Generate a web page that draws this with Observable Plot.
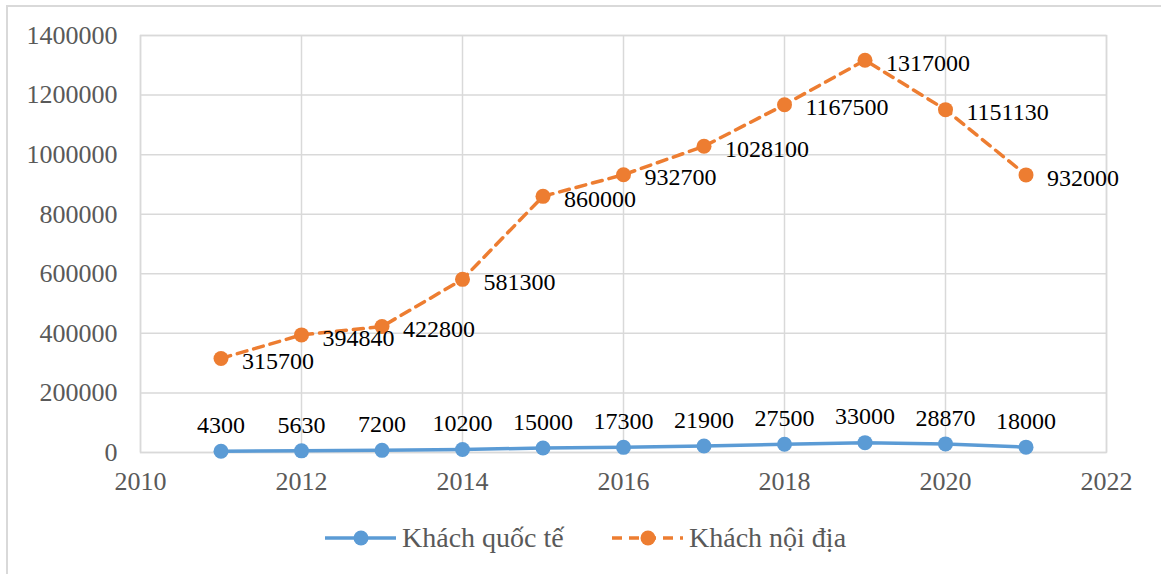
<!DOCTYPE html>
<html><head><meta charset="utf-8">
<script src="https://cdn.jsdelivr.net/npm/d3@7"></script>
<script src="https://cdn.jsdelivr.net/npm/@observablehq/plot@0.6"></script>
<style>
body{margin:0;background:#fff;}
#wrap{position:relative;width:1161px;height:574px;overflow:hidden;}
#border{position:absolute;left:6px;top:5px;width:1160px;height:580px;border-top:2px solid #d9d9d9;border-left:2px solid #d9d9d9;box-sizing:border-box;}
#chart{position:absolute;left:0;top:0;}
#legend{position:absolute;left:0;top:518px;width:1161px;height:40px;}
#legend .item{position:absolute;top:0;height:40px;display:flex;align-items:center;font-size:28px;color:#595959;white-space:nowrap;}
</style></head><body>
<div id="wrap"><div id="border"></div><div id="chart"></div><div id="legend" style="font-family:'Liberation Serif'"></div></div>
<script>
const years = [2011,2012,2013,2014,2015,2016,2017,2018,2019,2020,2021];
const intl = [4300,5630,7200,10200,15000,17300,21900,27500,33000,28870,18000];
const domestic = [315700,394840,422800,581300,860000,932700,1028100,1167500,1317000,1151130,932000];
const seriesNames = ["Khách quốc tế","Khách nội địa"];
const xTicks = [2010,2012,2014,2016,2018,2020,2022];
const yTicks = [0,200000,400000,600000,800000,1000000,1200000,1400000];

const blue = "#5B9BD5", orange = "#ED7D31";
const dIntl = years.map((y,i)=>({year:y,value:intl[i]}));
const dDom = years.map((y,i)=>({year:y,value:domestic[i]}));
const font = "Liberation Serif";

const chart = Plot.plot({
  width:1161, height:500,
  marginLeft:140, marginRight:55, marginTop:35, marginBottom:48,
  style:{background:"transparent"},
  x:{domain:[2010,2022], label:null},
  y:{domain:[0,1400000], label:null},
  marks:[
    Plot.gridX(xTicks,{stroke:"#d9d9d9", strokeOpacity:1, strokeWidth:1.5}),
    Plot.gridY(yTicks,{stroke:"#d9d9d9", strokeOpacity:1, strokeWidth:1.5}),
    Plot.frame({stroke:"#d9d9d9", strokeWidth:1.5}),
    Plot.axisX({ticks:xTicks, tickFormat:d=>String(d), tickSize:0, tickPadding:19, fill:"#595959", fontSize:26, fontFamily:font, label:null}),
    Plot.axisY({ticks:yTicks, tickFormat:d=>String(d), tickSize:0, tickPadding:23, fill:"#595959", fontSize:26, fontFamily:font, label:null}),
    Plot.line(dDom,{x:"year", y:"value", stroke:orange, strokeWidth:3.5, strokeDasharray:"10,7"}),
    Plot.dot(dDom,{x:"year", y:"value", r:7.5, fill:orange, stroke:null}),
    Plot.line(dIntl,{x:"year", y:"value", stroke:blue, strokeWidth:3.5}),
    Plot.dot(dIntl,{x:"year", y:"value", r:7.5, fill:blue, stroke:null}),
    Plot.text(dIntl,{x:"year", y:"value", text:d=>String(d.value), dy:-26, fill:"#000", fontSize:24, fontFamily:font, textAnchor:"middle"}),
    Plot.text(dDom,{x:"year", y:"value", text:d=>String(d.value), dx:21, dy:3, fill:"#000", fontSize:24, fontFamily:font, textAnchor:"start"})
  ]
});
chart.setAttribute("font-family", font);
document.getElementById("chart").appendChild(chart);

// legend
const legend = document.getElementById("legend");
const items = [
  {name:seriesNames[0], color:blue, dash:null, left:324},
  {name:seriesNames[1], color:orange, dash:"10,7", left:611}
];
items.forEach(it=>{
  const div = document.createElement("div");
  div.className="item";
  div.style.left = it.left+"px";
  div.style.fontFamily = "'Liberation Serif'";
  div.innerHTML = `<svg width="73" height="40" style="margin-right:5px;flex:none"><line x1="1" y1="20" x2="72" y2="20" stroke="${it.color}" stroke-width="3.5" ${it.dash?`stroke-dasharray="${it.dash}"`:""}/><circle cx="37" cy="20" r="7.5" fill="${it.color}"/></svg><span>${it.name}</span>`;
  legend.appendChild(div);
});
</script>
</body></html>
